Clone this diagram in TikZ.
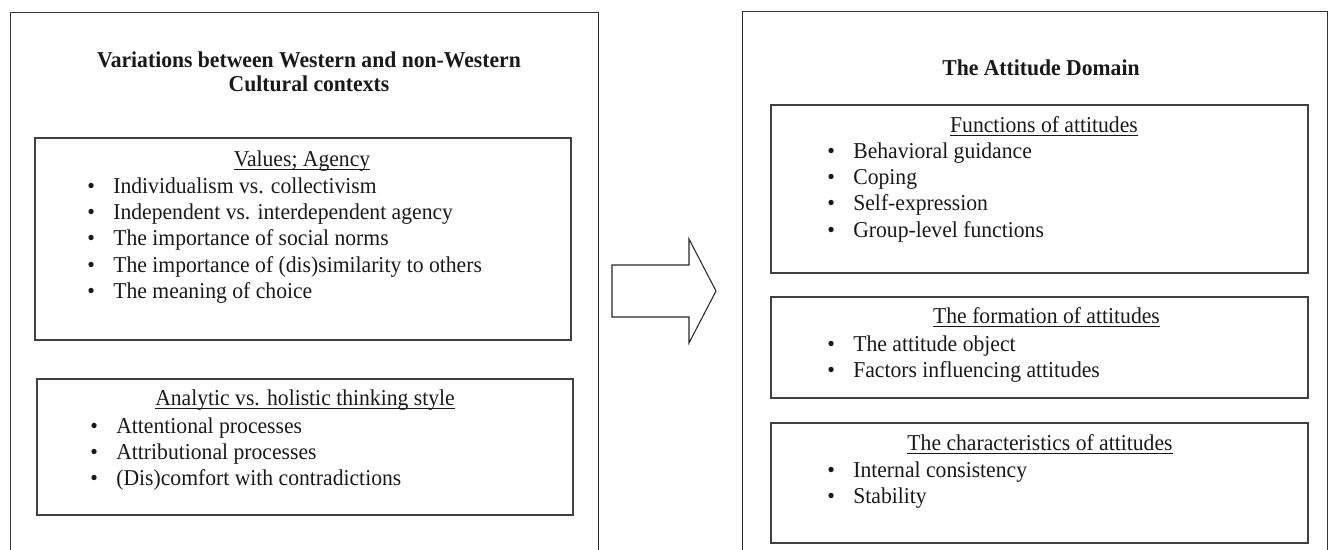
\documentclass[tikz,border=0pt]{standalone}
\usepackage{fontspec}
\setmainfont[FakeStretch=0.955]{Liberation Serif}
\usetikzlibrary{positioning}
\tikzstyle{outerbox} = [rectangle, draw=black!80, line width=0.75pt, anchor=north west, minimum height=12cm]
\tikzstyle{topic} = [rectangle, draw=black!75, line width=0.9pt, minimum width=10.72cm]
\tikzstyle{title} = [font=\fontsize{12.9}{13.6}\selectfont\bfseries, align=center, inner sep=0pt, text=black!90]
\tikzstyle{head} = [font=\fontsize{12.9}{14.9}\selectfont, anchor=base, inner sep=0pt, text=black!90]
\tikzstyle{items} = [font=\fontsize{12.9}{14.9}\selectfont, align=left, anchor=north west, inner sep=0pt, text=black!90]
\newcommand{\itm}{\makebox[0.52cm][l]{\textbullet}}
\newcommand{\ulhead}[1]{\setbox0\hbox{#1}\rlap{\rule[-1.7pt]{\wd0}{0.6pt}}\box0}

\begin{document}
\begin{tikzpicture}
        \useasboundingbox (0,0) rectangle (26.6,11);
        \clip (0,0) rectangle (26.6,11);
        % the two open frames
        \node (cult) [outerbox, minimum width=11.76cm] at (0.2,10.76) {};
        \node (dom) [outerbox, minimum width=11.7cm] at (14.84,10.78) {};
        \node (culttitle) [title, anchor=north] at (6.18,9.97) {Variations between Western and non-Western\\Cultural contexts};
        \node (domtitle) [title, anchor=base] at (20.82,9.48) {The Attitude Domain};

        % left: values and agency
        \node (vals) [topic, minimum height=4.04cm] at (6.06,6.22) {};
        \node (valshead) [head] at (6.04,7.66) {\ulhead{Values; Agency}};
        \node (valslist) [items] at (1.74,7.45) {\itm Individualism vs. collectivism\\
            \itm Independent vs. interdependent agency\\
            \itm The importance of social norms\\
            \itm The importance of (dis)similarity to others\\
            \itm The meaning of choice};

        % left: thinking style
        \node (think) [topic, minimum height=2.72cm] at (6.1,2.06) {};
        \node (thinkhead) [head] at (6.1,2.88) {\ulhead{Analytic vs. holistic thinking style}};
        \node (thinklist) [items] at (1.8,2.65) {\itm Attentional processes\\
            \itm Attributional processes\\
            \itm (Dis)comfort with contradictions};

        % block arrow between the frames
        \draw [black!85, line width=0.6pt] (12.24,5.7) -- (13.78,5.7) -- (13.78,6.22) -- (14.32,5.18)
            -- (13.78,4.14) -- (13.78,4.66) -- (12.24,4.66) -- cycle;

        % right: functions
        \node (func) [topic, minimum width=10.74cm, minimum height=3.36cm] at (20.79,7.22) {};
        \node (funchead) [head] at (20.88,8.34) {\ulhead{Functions of attitudes}};
        \node (funclist) [items] at (16.54,8.15) {\itm Behavioral guidance\\
            \itm Coping\\
            \itm Self-expression\\
            \itm Group-level functions};

        % right: formation
        \node (form) [topic, minimum width=10.74cm, minimum height=2.02cm] at (20.79,4.05) {};
        \node (formhead) [head] at (20.93,4.52) {\ulhead{The formation of attitudes}};
        \node (formlist) [items] at (16.54,4.29) {\itm The attitude object\\
            \itm Factors influencing attitudes};

        % right: characteristics
        \node (chars) [topic, minimum width=10.74cm, minimum height=2.4cm] at (20.79,1.34) {};
        \node (charshead) [head] at (20.8,1.98) {\ulhead{The characteristics of attitudes}};
        \node (charslist) [items] at (16.54,1.77) {\itm Internal consistency\\
            \itm Stability};
\end{tikzpicture}
\end{document}
